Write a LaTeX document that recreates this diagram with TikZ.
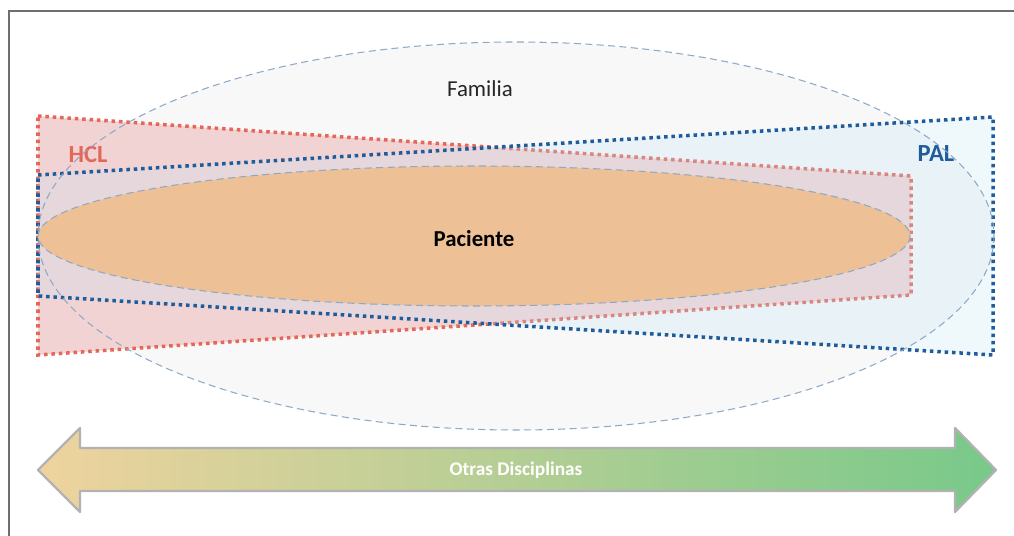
\documentclass[tikz,border=0pt]{standalone}
\usepackage{fontspec}
\setmainfont{Carlito}
\definecolor{famfill}{HTML}{F8F8F8}
\definecolor{famline}{HTML}{8EA9C6}
\definecolor{pacfill}{HTML}{EDC096}
\definecolor{hclred}{HTML}{E4675A}
\definecolor{hclfill}{HTML}{F2D3D3}
\definecolor{palblue}{HTML}{1F5C9C}
\definecolor{palfill}{HTML}{BFE6F5}
\definecolor{arrowtan}{HTML}{EFD39E}
\definecolor{arrowmid}{HTML}{B9C47F}
\definecolor{arrowgreen}{HTML}{78C98A}
\definecolor{framegray}{HTML}{6E6E6E}
\begin{document}
\begin{tikzpicture}[x=0.02cm, y=-0.02cm,
    famline/.style={draw=famline, line width=0.6pt, dash pattern=on 4pt off 2.5pt},
    dotline/.style={line width=2pt, dash pattern=on 2pt off 2.2pt},
    label/.style={anchor=base, inner sep=0pt}]
    \useasboundingbox (0,0) rectangle (1014,536);

    % 枠
    \draw[framegray, line width=1.1pt] (9,536) -- (9,11) -- (1014,11);

    % Familiaの楕円
    \fill[famfill] (516,236) ellipse (478 and 194);
    \node[label, font=\fontsize{13}{15}\selectfont, text=black!85] (familia) at (480,97) {Familia};

    % HCLの台形
    \draw[hclred, dotline, fill=hclfill] (38,116) -- (911,176) -- (911,295) -- (38,355) -- cycle;
    \node[label, font=\fontsize{14}{16}\selectfont\bfseries, text=hclred] (hcl) at (88,163) {HCL};

    % PALの台形
    \draw[palblue, dotline, fill=palfill, fill opacity=0.25] (38,175) -- (993,117) -- (993,355) -- (38,296) -- cycle;
    \node[label, font=\fontsize{14}{16}\selectfont\bfseries, text=palblue] (pal) at (936,162) {PAL};

    % 楕円の線
    \draw[famline] (516,236) ellipse (478 and 194);

    % Pacienteの楕円
    \draw[famline, fill=pacfill] (474,236) ellipse (436 and 70);
    \node[label, font=\fontsize{13}{15}\selectfont\bfseries, text=black] (paciente) at (474,247) {Paciente};

    % 両方向の矢印
    \shade[left color=arrowtan, middle color=arrowmid, right color=arrowgreen]
      (38,470) -- (80,428) -- (80,448) -- (955,448) -- (955,428) -- (996,470)
      -- (955,512) -- (955,491) -- (80,491) -- (80,512) -- cycle;
    \draw[gray!60, line width=1.3pt, line join=round]
      (38,470) -- (80,428) -- (80,448) -- (955,448) -- (955,428) -- (996,470)
      -- (955,512) -- (955,491) -- (80,491) -- (80,512) -- cycle;
    \node[label, font=\fontsize{11}{13}\selectfont\bfseries, text=white] (otras) at (516,476) {Otras Disciplinas};
\end{tikzpicture}
\end{document}
